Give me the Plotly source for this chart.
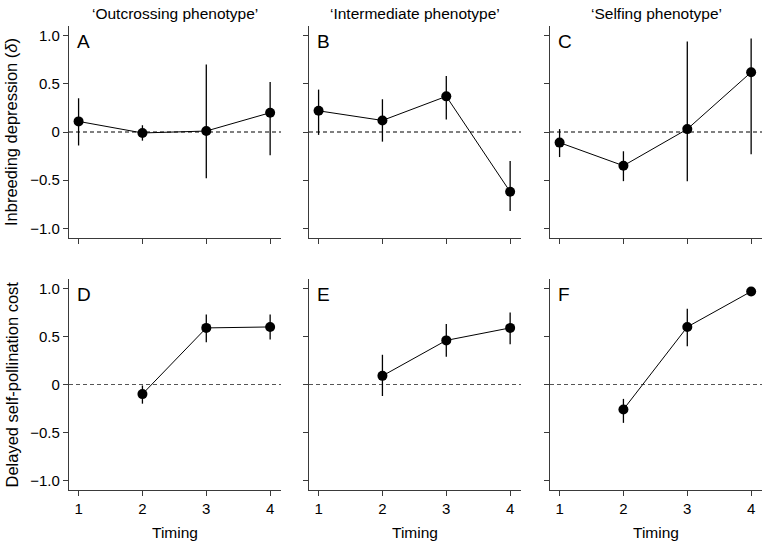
import plotly.graph_objects as go

W, H = 763, 543

# ---- data ----
timing_top = [1, 2, 3, 4]
timing_bottom = [2, 3, 4]

col_titles = ["\u2018Outcrossing phenotype\u2019", "\u2018Intermediate phenotype\u2019", "\u2018Selfing phenotype\u2019"]
row_titles = ["Inbreeding depression (<i>\u03b4</i>)", "Delayed self-pollination cost"]
x_title = "Timing"
panel_letters = ["A", "B", "C", "D", "E", "F"]

# Inbreeding depression (delta) - mean, upper, lower
A_mean = [0.11, -0.01, 0.01, 0.20]
A_up = [0.35, 0.07, 0.70, 0.52]
A_lo = [-0.14, -0.09, -0.48, -0.24]

B_mean = [0.22, 0.12, 0.37, -0.62]
B_up = [0.44, 0.34, 0.58, -0.30]
B_lo = [-0.03, -0.10, 0.13, -0.82]

C_mean = [-0.11, -0.35, 0.03, 0.62]
C_up = [0.03, -0.20, 0.94, 0.97]
C_lo = [-0.26, -0.51, -0.51, -0.23]

# Delayed self-pollination cost
D_mean = [-0.10, 0.59, 0.60]
D_up = [-0.01, 0.73, 0.73]
D_lo = [-0.20, 0.44, 0.47]

E_mean = [0.09, 0.46, 0.59]
E_up = [0.31, 0.63, 0.75]
E_lo = [-0.12, 0.29, 0.42]

F_mean = [-0.26, 0.60, 0.97]
F_up = [-0.15, 0.79, 0.98]
F_lo = [-0.40, 0.40, 0.96]

ytick_vals = [-1.0, -0.5, 0, 0.5, 1.0]
ytick_text = ["\u22121.0", "\u22120.5", "0", "0.5", "1.0"]
xtick_vals = [1, 2, 3, 4]
xtick_text = ["1", "2", "3", "4"]

panels = [
    (timing_top, A_mean, A_up, A_lo),
    (timing_top, B_mean, B_up, B_lo),
    (timing_top, C_mean, C_up, C_lo),
    (timing_bottom, D_mean, D_up, D_lo),
    (timing_bottom, E_mean, E_up, E_lo),
    (timing_bottom, F_mean, F_up, F_lo),
]

FONT = "Liberation Sans, Arial, Helvetica, sans-serif"
AXC = "#3a3a3a"

# pixel layout
xpix = [(69, 281), (309, 521), (550, 762)]
ypix = [(26, 238), (279, 490)]

fig = go.Figure()
layout = dict(
    width=W, height=H, margin=dict(l=0, r=0, t=0, b=0),
    paper_bgcolor="white", plot_bgcolor="white", showlegend=False,
    font=dict(family=FONT, size=15, color="black"),
)
shapes = []
annotations = []

for i, (xs, m, up, lo) in enumerate(panels):
    r, c = divmod(i, 3)
    n = i + 1
    xa = "xaxis" if n == 1 else f"xaxis{n}"
    ya = "yaxis" if n == 1 else f"yaxis{n}"
    xr = "x" if n == 1 else f"x{n}"
    yr = "y" if n == 1 else f"y{n}"
    err_plus = [u - v for u, v in zip(up, m)]
    err_minus = [v - l for v, l in zip(m, lo)]
    fig.add_trace(go.Scatter(
        x=xs, y=m, xaxis=xr, yaxis=yr, mode="lines+markers",
        line=dict(color="black", width=1),
        marker=dict(color="black", size=10),
        error_y=dict(type="data", symmetric=False, array=err_plus, arrayminus=err_minus,
                     color="black", thickness=1.3, width=0),
        cliponaxis=False,
    ))
    x0, x1 = xpix[c]
    y0, y1 = ypix[r]
    layout[xa] = dict(
        domain=[x0 / W, x1 / W], range=[0.85, 4.17], anchor=yr,
        showline=True, linecolor=AXC, linewidth=1.3, ticks="outside", ticklen=5,
        tickcolor=AXC, tickwidth=1.3, tickvals=xtick_vals, ticktext=xtick_text,
        showticklabels=(r == 1), showgrid=False, zeroline=False,
        tickfont=dict(size=15, color="black"),
    )
    layout[ya] = dict(
        domain=[1 - y1 / H, 1 - y0 / H], range=[-1.1, 1.1], anchor=xr,
        showline=True, linecolor=AXC, linewidth=1.3, ticks="outside", ticklen=5,
        tickcolor=AXC, tickwidth=1.3, tickvals=ytick_vals, ticktext=ytick_text,
        showticklabels=(c == 0), showgrid=False, zeroline=False,
        tickfont=dict(size=15, color="black"),
    )
    if c == 0:
        annotations.append(dict(
            text=row_titles[r], xref="paper", yref="paper",
            x=11 / W, y=1 - (y0 + y1) / 2 / H, xanchor="center", yanchor="middle",
            textangle=-90, showarrow=False, font=dict(size=16.5, color="black"),
        ))
    if r == 1:
        annotations.append(dict(
            text=x_title, xref="paper", yref="paper",
            x=(x0 + x1) / 2 / W, y=1 - 532 / H, xanchor="center", yanchor="middle",
            showarrow=False, font=dict(size=15.5, color="black"),
        ))
    shapes.append(dict(
        type="line", xref=f"{xr} domain", yref=yr, x0=0, x1=1, y0=0, y1=0,
        line=dict(color="black" if r == 0 else "#555555", width=1.1, dash="4px,3px"),
        layer="below",
    ))
    annotations.append(dict(
        text=panel_letters[i], xref=f"{xr} domain", yref=f"{yr} domain",
        x=0.03, y=0.985, xanchor="left", yanchor="top", showarrow=False,
        font=dict(size=19, color="black"),
    ))
    if r == 0:
        annotations.append(dict(
            text=col_titles[c], xref="paper", yref="paper",
            x=(x0 + x1) / 2 / W, y=1 - 13 / H, xanchor="center", yanchor="middle",
            showarrow=False, font=dict(size=15.5, color="black"),
        ))

layout["shapes"] = shapes
layout["annotations"] = annotations
fig.update_layout(**layout)
fig.write_html("out.html", config={"displayModeBar": False},
               post_script="document.body.style.margin='0';document.body.style.overflow='hidden';")
